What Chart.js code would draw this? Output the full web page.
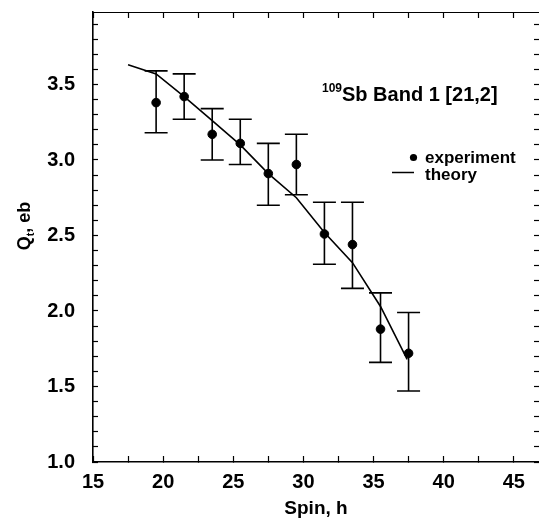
<!DOCTYPE html>
<html>
<head>
<meta charset="utf-8">
<script src="https://cdn.jsdelivr.net/npm/chart.js@4"></script>
<style>
  html, body { margin: 0; padding: 0; background: #fff; }
  canvas { display: block; }
</style>
</head>
<body>
<canvas id="qt" width="539" height="522"></canvas>
<script>
// measured points (spin, Qt) with error bar ends
const spin = [19.5, 21.5, 23.5, 25.5, 27.5, 29.5, 31.5, 33.5, 35.5, 37.5];
const qtExp = [3.38, 3.42, 3.17, 3.11, 2.91, 2.97, 2.51, 2.44, 1.88, 1.72];
const qtHi = [3.59, 3.57, 3.34, 3.27, 3.11, 3.17, 2.72, 2.72, 2.12, 1.99];
const qtLo = [3.18, 3.27, 3.00, 2.97, 2.70, 2.77, 2.31, 2.15, 1.66, 1.47];

// theory curve
const theorySpin = [17.5, 19.5, 21.5, 23.5, 25.5, 27.5, 29.5, 31.5, 33.5, 35.5, 37.4];
const theoryQt = [3.63, 3.57, 3.42, 3.26, 3.10, 2.91, 2.75, 2.52, 2.32, 2.03, 1.68];

const FONT = '"Liberation Sans", Arial, Helvetica, sans-serif';
const INK = "#000";

const isMult = (v, m) => Math.abs(v / m - Math.round(v / m)) < 1e-6;

// fixed box sizes, no label overhang padding
const fixBox = (w, h) => (s) => {
  if (w != null) s.width = w;
  if (h != null) s.height = h;
  s.paddingLeft = s.paddingRight = s.paddingTop = s.paddingBottom = 0;
};

// error bars, axis title with subscript, label and legend
const extras = {
  id: "extras",
  afterDatasetsDraw(chart) {
    const { ctx, scales: { x, y } } = chart;
    ctx.save();
    ctx.strokeStyle = INK;
    ctx.fillStyle = INK;
    ctx.lineWidth = 1.6;
    const cap = 11.5;
    spin.forEach((s, i) => {
      const px = x.getPixelForValue(s);
      const yHi = y.getPixelForValue(qtHi[i]);
      const yLo = y.getPixelForValue(qtLo[i]);
      ctx.beginPath();
      ctx.moveTo(px, yHi); ctx.lineTo(px, yLo);
      ctx.moveTo(px - cap, yHi); ctx.lineTo(px + cap, yHi);
      ctx.moveTo(px - cap, yLo); ctx.lineTo(px + cap, yLo);
      ctx.stroke();
    });

    // y title: Q_t, eb
    ctx.translate(30, 226);
    ctx.rotate(-Math.PI / 2);
    ctx.textBaseline = "alphabetic";
    ctx.font = `bold 18px ${FONT}`;
    const wQ = ctx.measureText("Q").width;
    const wRest = ctx.measureText(", eb").width;
    ctx.font = `bold 11px ${FONT}`;
    const wt = ctx.measureText("t").width;
    const x0 = -(wQ + wt + wRest) / 2;
    ctx.font = `bold 18px ${FONT}`;
    ctx.fillText("Q", x0, 0);
    ctx.font = `bold 11px ${FONT}`;
    ctx.fillText("t", x0 + wQ, 4);
    ctx.font = `bold 18px ${FONT}`;
    ctx.fillText(", eb", x0 + wQ + wt, 0);
    ctx.setTransform(1, 0, 0, 1, 0, 0);

    // band label
    ctx.textAlign = "left";
    ctx.font = `bold 12px ${FONT}`;
    ctx.fillText("109", 322, 92);
    ctx.font = `bold 20px ${FONT}`;
    ctx.fillText("Sb Band 1 [21,2]", 342, 101);

    // legend
    ctx.beginPath();
    ctx.arc(413.5, 157.5, 3.6, 0, Math.PI * 2);
    ctx.fill();
    ctx.beginPath();
    ctx.lineWidth = 1.5;
    ctx.moveTo(392, 172.5); ctx.lineTo(414, 172.5);
    ctx.stroke();
    ctx.font = `bold 17px ${FONT}`;
    ctx.fillText("experiment", 425, 163);
    ctx.fillText("theory", 425, 180);
    ctx.restore();
  },
};

const axisX = {
  type: "linear",
  min: 15,
  max: 46.8,
  border: { color: INK, width: 1.6 },
  grid: { drawOnChartArea: false, tickLength: -6, color: INK, tickWidth: 1.2 },
  ticks: {
    stepSize: 2.5,
    autoSkip: false,
    includeBounds: false,
    maxRotation: 0,
    padding: 14,
    color: INK,
    font: { family: FONT, size: 20, weight: "bold" },
    callback: (v) => (isMult(v, 5) ? String(Math.round(v)) : ""),
  },
};

const axisY = {
  type: "linear",
  min: 1.0,
  max: 3.98,
  border: { color: INK, width: 1.6 },
  grid: { drawOnChartArea: false, tickLength: -5, color: INK, tickWidth: 1.2 },
  ticks: {
    stepSize: 0.1,
    autoSkip: false,
    includeBounds: false,
    padding: 23,
    color: INK,
    font: { family: FONT, size: 20, weight: "bold" },
    callback: (v) => (isMult(v, 0.5) ? v.toFixed(1) : ""),
  },
};

new Chart(document.getElementById("qt"), {
  type: "scatter",
  data: {
    datasets: [
      {
        label: "theory",
        type: "line",
        data: theorySpin.map((s, i) => ({ x: s, y: theoryQt[i] })),
        borderColor: INK,
        borderWidth: 1.6,
        pointRadius: 0,
        tension: 0,
        fill: false,
      },
      {
        label: "experiment",
        data: spin.map((s, i) => ({ x: s, y: qtExp[i] })),
        backgroundColor: INK,
        borderColor: INK,
        pointRadius: 4.3,
        pointHoverRadius: 4.3,
      },
    ],
  },
  options: {
    responsive: false,
    animation: false,
    devicePixelRatio: 1,
    layout: { autoPadding: false, padding: { left: 0, right: 0, top: 12, bottom: 0 } },
    plugins: { legend: { display: false }, tooltip: { enabled: false } },
    scales: {
      x: {
        ...axisX,
        position: "bottom",
        weight: 1,
        title: {
          display: true,
          text: "Spin, h",
          color: INK,
          font: { family: FONT, size: 19, weight: "bold" },
          padding: { top: 0, bottom: 2 },
        },
        afterFit: fixBox(null, 60),
      },
      xTop: {
        ...axisX,
        position: "top",
        border: { color: INK, width: 1 },
        ticks: { ...axisX.ticks, display: false },
        afterFit: fixBox(null, 0),
      },
      y: {
        ...axisY,
        position: "left",
        weight: 1,
        afterFit: fixBox(93, null),
      },
      yRight: {
        ...axisY,
        position: "right",
        border: { display: false },
        ticks: { ...axisY.ticks, display: false },
        afterFit: fixBox(0, null),
      },
    },
  },
  plugins: [extras],
});
</script>
</body>
</html>
